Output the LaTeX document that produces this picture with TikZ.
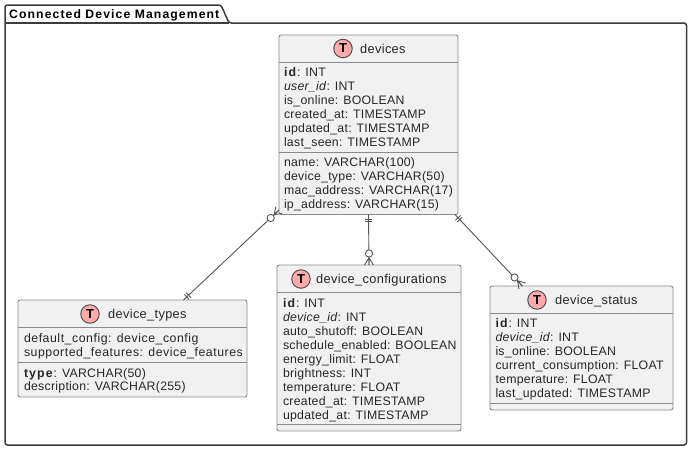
\documentclass[tikz,border=0pt]{standalone}
\usepackage{fontspec}
\setmainfont{Liberation Sans}[LetterSpace=2.2,BoldFeatures={LetterSpace=9}]
\definecolor{inkc}{HTML}{262626}
\definecolor{edgec}{HTML}{8A8A8A}
\definecolor{boxc}{HTML}{F1F1F1}
\definecolor{linkc}{HTML}{555555}
\definecolor{badgec}{HTML}{FFAAAA}
\newcommand{\rowstart}{\rule{0pt}{10pt}}
\tikzset{
  x=1pt,y=-1pt,
  tablebox/.style={draw=edgec,fill=boxc,line width=0.9pt,rounded corners=2.2pt,anchor=north west,inner sep=0pt,outer sep=0pt},
  tablerule/.style={draw=edgec,line width=0.9pt},
  rowsblock/.style={anchor=north west,inner sep=0pt,outer sep=0pt,align=left,text=inkc,font=\fontsize{12.3}{13.95}\selectfont},
  widerows/.style={rowsblock,font=\fontsize{12.3}{13.95}\selectfont\addfontfeature{LetterSpace=4.4}},
  titletext/.style={anchor=base west,inner sep=0pt,text=inkc,font=\fontsize{12.8}{14}\selectfont\addfontfeature{LetterSpace=2.6}},
  badge/.style={circle,draw=inkc!85,fill=badgec,line width=0.9pt,minimum size=18.5pt,inner sep=0pt,text=black,font=\fontsize{13}{14}\selectfont\bfseries},
  linkline/.style={draw=linkc,line width=0.9pt},
  pkgline/.style={draw=inkc!90,line width=1.5pt,line join=round},
  zeromany/.pic={
    \draw[linkline] (0,0) -- (7,0) (0,-4.5) -- (7,0) -- (0,4.5);
    \draw[linkline,fill=white] (11.5,0) circle (3.6);
  },
  onlyone/.pic={
    \draw[linkline] (4.5,-3.5) -- (4.5,3.5) (7,-3.5) -- (7,3.5);
  }
}
\begin{document}
\begin{tikzpicture}
\useasboundingbox (0,0) rectangle (697,453);
\fill[white] (0,0) rectangle (697,453);
% package
\draw[pkgline,rounded corners=2.5pt] (5,23) -- (5,5) -- (221,5) -- (229,23) -- (686.5,23) -- (686.5,445) -- (5,445) -- cycle;
\draw[pkgline] (5,23) -- (229,23);
\node[anchor=base west,inner sep=0pt,text=black,font=\fontsize{12.2}{14}\selectfont\bfseries] (pkgtitle) at (9,18.5) {Connected Device Management};

% devices
\node[tablebox,minimum width=179pt,minimum height=179.5pt] (devbox) at (279,35) {};
\draw[tablerule] (devbox.west |- 0,62) -- (devbox.east |- 0,62);
\draw[tablerule] (devbox.west |- 0,152) -- (devbox.east |- 0,152);
\node[badge] (devbadge) at (343,48.5) {T};
\node[titletext] (devtitle) at (360,53) {devices};
\node[rowsblock] (devkeys) at (284,66.5) {\rowstart\textbf{id}: INT\\\textit{user\_id}: INT\\is\_online: BOOLEAN\\created\_at: TIMESTAMP\\updated\_at: TIMESTAMP\\last\_seen: TIMESTAMP};
\node[rowsblock] (devrows) at (284,156.5) {\rowstart name: VARCHAR(100)\\device\_type: VARCHAR(50)\\mac\_address: VARCHAR(17)\\ip\_address: VARCHAR(15)};

% device_types
\node[tablebox,minimum width=229pt,minimum height=97pt] (typbox) at (18,300) {};
\draw[tablerule] (typbox.west |- 0,327) -- (typbox.east |- 0,327);
\draw[tablerule] (typbox.west |- 0,362) -- (typbox.east |- 0,362);
\node[badge] (typbadge) at (90,314) {T};
\node[titletext] (typtitle) at (108,318.5) {device\_types};
\node[widerows] (typrows) at (24,332.5) {\rowstart default\_config: device\_config\\supported\_features: device\_features};
\node[rowsblock] (typkeys) at (24,367) {\rowstart\textbf{type}: VARCHAR(50)\\description: VARCHAR(255)};

% device_configurations
\node[tablebox,minimum width=184pt,minimum height=166pt] (cfgbox) at (277,265) {};
\draw[tablerule] (cfgbox.west |- 0,292) -- (cfgbox.east |- 0,292);
\draw[tablerule] (cfgbox.west |- 0,424) -- (cfgbox.east |- 0,424);
\node[badge] (cfgbadge) at (301,279) {T};
\node[titletext] (cfgtitle) at (316,283.5) {device\_configurations};
\node[rowsblock] (cfgrows) at (283,297.5) {\rowstart\textbf{id}: INT\\\textit{device\_id}: INT\\auto\_shutoff: BOOLEAN\\schedule\_enabled: BOOLEAN\\energy\_limit: FLOAT\\brightness: INT\\temperature: FLOAT\\created\_at: TIMESTAMP\\updated\_at: TIMESTAMP};

% device_status
\node[tablebox,minimum width=183pt,minimum height=124pt] (stabox) at (490,286) {};
\draw[tablerule] (stabox.west |- 0,313) -- (stabox.east |- 0,313);
\draw[tablerule] (stabox.west |- 0,403) -- (stabox.east |- 0,403);
\node[badge] (stabadge) at (537,300) {T};
\node[titletext] (statitle) at (555,304.5) {device\_status};
\node[rowsblock] (starows) at (495.5,317.5) {\rowstart\textbf{id}: INT\\\textit{device\_id}: INT\\is\_online: BOOLEAN\\current\_consumption: FLOAT\\temperature: FLOAT\\last\_updated: TIMESTAMP};

% connector ends
\coordinate (devsw) at (279,210);
\coordinate (typne) at (183.5,300);
\coordinate (devse) at (455,214.5);
\coordinate (stanw) at (522.3,286);

% connectors
\draw[linkline] (devsw) -- (typne);
\draw[linkline] (devbox.south) -- (cfgbox.north);
\draw[linkline] (devse) -- (stanw);

% ends
\pic[rotate=224] at (devsw) {zeromany};
\pic[rotate=43] at (typne) {onlyone};
\pic[rotate=270] at (devbox.south) {onlyone};
\pic[rotate=90] at (cfgbox.north) {zeromany};
\pic[rotate=-48] at (devse) {onlyone};
\pic[rotate=132] at (stanw) {zeromany};
\end{tikzpicture}
\end{document}
